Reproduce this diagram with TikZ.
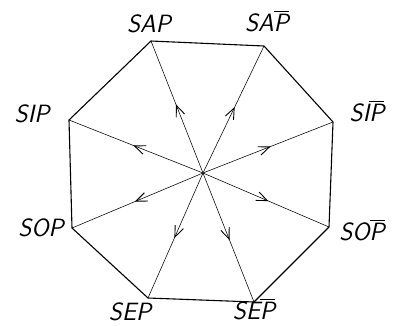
\documentclass[tikz,border=0pt]{standalone}
\usepackage{amsmath}
\usepackage{tikz}
\usetikzlibrary{decorations.markings,arrows.meta}

\newcommand\notP{\ensuremath{\overline{\mbox{P}}}}

\begin{document}
\begin{tikzpicture}[x=1pt,y=-1pt,
  side/.style={line width=1.1pt,line join=round},
  spoke/.style={line width=0.55pt,postaction={decorate},
    decoration={markings,mark=at position 0.52 with {\arrow{Straight Barb[length=11pt,width=9pt,line width=0.9pt]}}}},
  lbl/.style={font=\sffamily\slshape\fontsize{25}{25}\selectfont,inner sep=0pt}]
\useasboundingbox (0,0) rectangle (394,325);
\coordinate (o) at (203,173);
\coordinate (sap) at (151,41);
\coordinate (sapn) at (264,46);
\coordinate (sipn) at (333,122);
\coordinate (sopn) at (329,227);
\coordinate (sepn) at (254,302);
\coordinate (sep) at (148,298);
\coordinate (sop) at (72,228);
\coordinate (sip) at (69,120);
\node[lbl] (lsap) at (149,24) {SAP};
\node[lbl] (lsapn) at (267,21) {SA\notP};
\node[lbl] (lsip) at (32,114) {SIP};
\node[lbl] (lsipn) at (367,111) {SI\notP};
\node[lbl] (lsop) at (41,228) {SOP};
\node[lbl] (lsopn) at (362,230) {SO\notP};
\node[lbl] (lsep) at (130,312) {SEP};
\node[lbl] (lsepn) at (254,309) {SE\notP};
\draw[side] (sap) -- (sapn) -- (sipn) -- (sopn) -- (sepn) -- (sep) -- (sop) -- (sip) -- cycle;
\foreach \v in {sap,sapn,sipn,sopn,sepn,sep,sop,sip}
  \draw[spoke] (o) -- (\v);
\end{tikzpicture}
\end{document}
